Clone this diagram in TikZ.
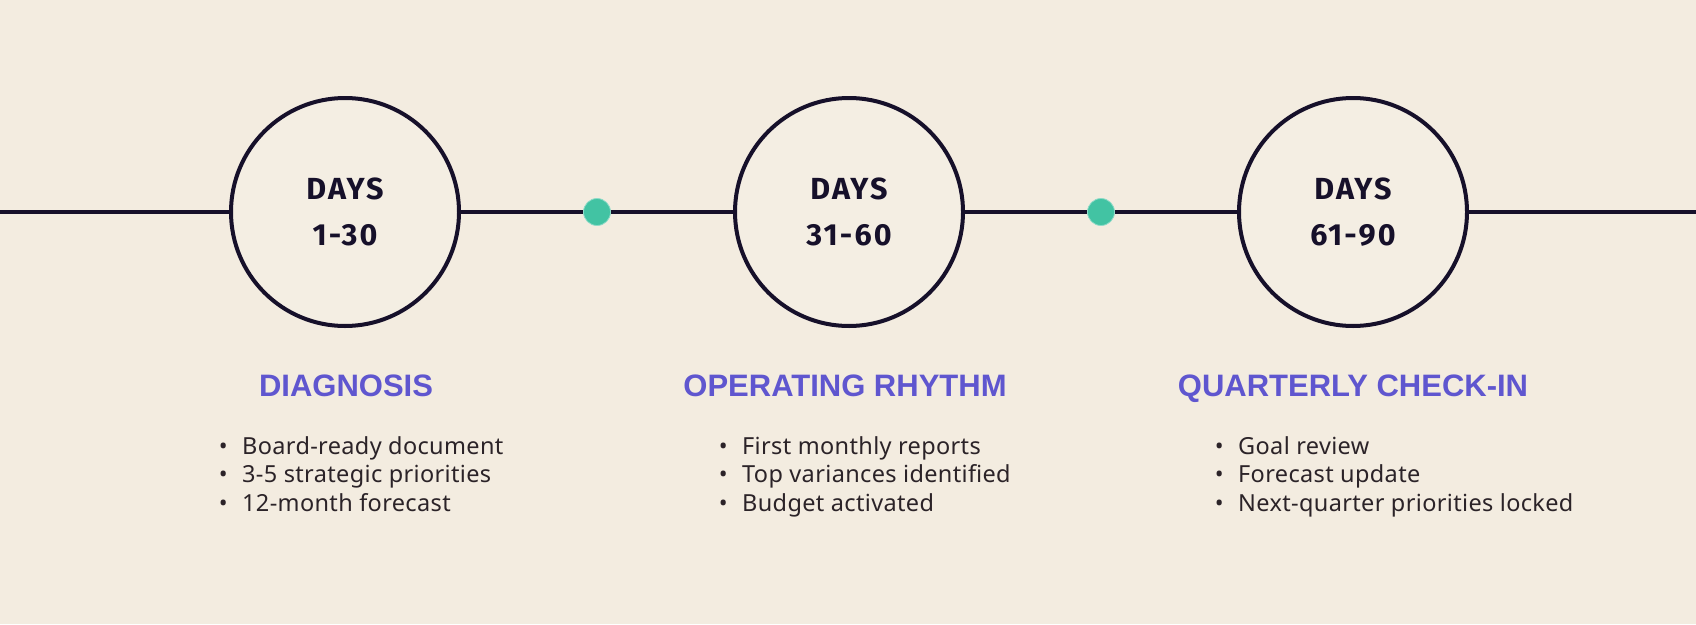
\documentclass[tikz,border=0pt]{standalone}
\usepackage{fontspec}
\setmainfont{Noto Sans}
\newfontfamily\dayfont{Fira Sans}[LetterSpace=7]
\newfontfamily\headfont{Liberation Sans}
\newfontfamily\bodyfont{Noto Sans}[LetterSpace=1.5]
\definecolor{bgc}{HTML}{F3ECE0}
\definecolor{innerc}{HTML}{F4EEE3}
\definecolor{linec}{HTML}{16102A}
\definecolor{tealc}{HTML}{42C3A3}
\definecolor{purplec}{HTML}{5F56CF}
\definecolor{textc}{HTML}{2B2328}
\tikzset{
  phase/.style={circle, draw=linec, line width=4pt, fill=innerc, minimum size=228pt, inner sep=0pt,
    align=center, text=linec, font=\dayfont\bfseries\fontsize{30.5}{46}\selectfont},
  tick/.style={circle, fill=tealc, draw=tealc!60!white, line width=0.8pt, minimum size=27pt, inner sep=0pt},
  axis/.style={draw=linec, line width=3.5pt},
  heading/.style={anchor=base, inner sep=0pt, text=purplec, font=\headfont\bfseries\fontsize{31}{36}\selectfont},
  item/.style={anchor=base west, inner sep=0pt, text=textc, font=\bodyfont\fontsize{23.5}{28}\selectfont},
}
\newcommand{\itm}[1]{\makebox[23.4pt][l]{•}#1}
\begin{document}
\begin{tikzpicture}[x=1pt,y=-1pt]
\fill[bgc] (0,0) rectangle (1696,624);
\useasboundingbox (0,0) rectangle (1696,624);
\coordinate (L) at (0,212);
\coordinate (R) at (1696,212);
\node[phase] (c1) at (345,212) {DAYS\\1-30};
\node[phase] (c2) at (849,212) {DAYS\\31-60};
\node[phase] (c3) at (1353,212) {DAYS\\61-90};
\node[tick] (d1) at (597,212) {};
\node[tick] (d2) at (1101,212) {};
\draw[axis] (L) -- (c1.west);
\draw[axis] (c1.east) -- (d1.west);
\draw[axis] (d1.east) -- (c2.west);
\draw[axis] (c2.east) -- (d2.west);
\draw[axis] (d2.east) -- (c3.west);
\draw[axis] (c3.east) -- (R);
\node[heading] (h1) at (346,396) {DIAGNOSIS};
\node[heading] (h2) at (845,396) {OPERATING RHYTHM};
\node[heading] (h3) at (1353,396) {QUARTERLY CHECK-IN};
\node[item] (a1) at (218.6,454) {\itm{Board-ready document}};
\node[item] (a2) at (218.6,482.5) {\itm{3-5 strategic priorities}};
\node[item] (a3) at (218.6,511) {\itm{12-month forecast}};
\node[item] (b1) at (718.6,454) {\itm{First monthly reports}};
\node[item] (b2) at (718.6,482.5) {\itm{Top variances identified}};
\node[item] (b3) at (718.6,511) {\itm{Budget activated}};
\node[item] (e1) at (1214.6,454) {\itm{Goal review}};
\node[item] (e2) at (1214.6,482.5) {\itm{Forecast update}};
\node[item] (e3) at (1214.6,511) {\itm{Next-quarter priorities locked}};
\end{tikzpicture}
\end{document}
